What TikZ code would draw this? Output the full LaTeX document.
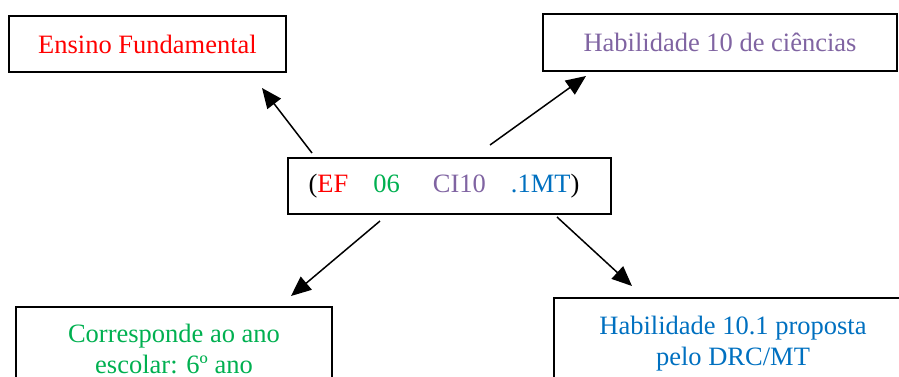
\documentclass[tikz,border=0pt]{standalone}
\usepackage{fontspec}
\setmainfont{Liberation Serif}
\usetikzlibrary{arrows.meta}
\definecolor{cred}{RGB}{255,0,0}
\definecolor{cgreen}{RGB}{0,176,80}
\definecolor{cpurple}{RGB}{128,100,162}
\definecolor{cblue}{RGB}{0,112,192}
\begin{document}
\begin{tikzpicture}[x=1pt,y=-1pt,
  box/.style={draw=black, line width=1.7pt, inner sep=0pt, align=center,
              font=\fontsize{26.5}{31}\selectfont},
  conn/.style={line width=1.5pt, -{Triangle[length=20pt,width=17pt]}}]
\useasboundingbox (0,0) rectangle (899,376);
\node[box, minimum width=277pt, minimum height=56pt, text=cred] (ef) at (147.5,44) {Ensino Fundamental};
\node[box, minimum width=354pt, minimum height=57pt, text=cpurple] (hab) at (720,42.5) {Habilidade 10 de ciências};
\node[box, minimum width=323pt, minimum height=56pt] (code) at (449.5,186)
  {(\textcolor{cred}{EF}\hspace{25pt}\textcolor{cgreen}{06}\hspace{33pt}\textcolor{cpurple}{CI10}\hspace{25pt}\textcolor{cblue}{.1MT})\hspace{11pt}};
\node[box, minimum width=316pt, minimum height=83pt, text=cgreen] (ano) at (174,348.5) {Corresponde ao ano\\escolar: 6º ano};
\node[box, minimum width=358pt, minimum height=91pt, text=cblue] (drc) at (733,343.5) {Habilidade 10.1 proposta\\pelo DRC/MT};
\coordinate (s1) at (312,153); \coordinate (e1) at (262,88);
\coordinate (s2) at (490,145); \coordinate (e2) at (586,76);
\coordinate (s3) at (380,221); \coordinate (e3) at (291,296);
\coordinate (s4) at (557,217); \coordinate (e4) at (632,286);
\draw[conn] (s1) -- (e1);
\draw[conn] (s2) -- (e2);
\draw[conn] (s3) -- (e3);
\draw[conn] (s4) -- (e4);
\end{tikzpicture}
\end{document}
